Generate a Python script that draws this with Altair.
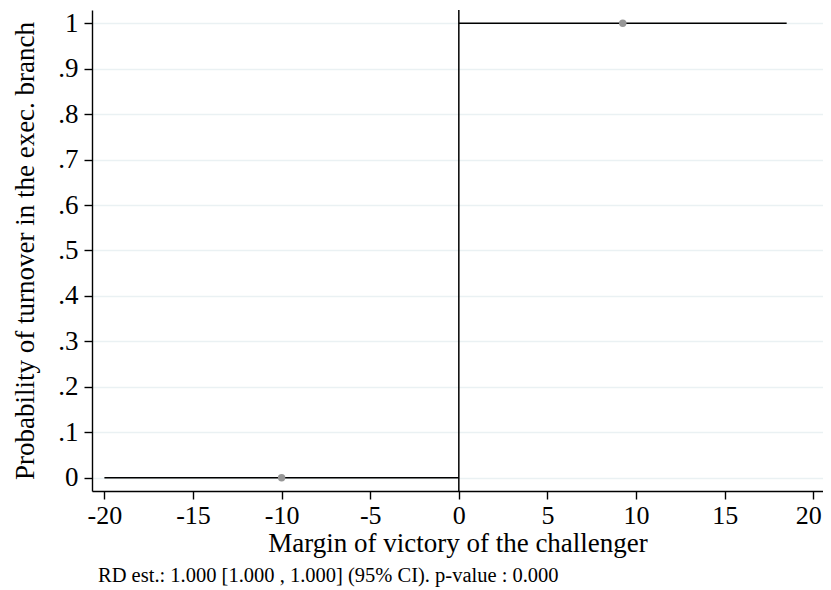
import json
import altair as alt
import pandas as pd

# Fitted segments (left / right of cutoff)
seg_x_start = [-20.0, 0.0]
seg_x_end = [0.0, 18.5]
seg_y = [0.0, 1.0]

# Binned means (scatter points)
pt_x = [-10.0, 9.25]
pt_y = [0.0, 1.0]

cutoff = [0.0]

x_ticks = [-20, -15, -10, -5, 0, 5, 10, 15, 20]
y_ticks = [0, 0.1, 0.2, 0.3, 0.4, 0.5, 0.6, 0.7, 0.8, 0.9, 1.0]
y_tick_labels = ["0", ".1", ".2", ".3", ".4", ".5", ".6", ".7", ".8", ".9", "1"]

x_title = "Margin of victory of the challenger"
y_title = "Probability of turnover in the exec. branch"
note = "RD est.: 1.000 [1.000 , 1.000] (95% CI). p-value : 0.000"

FONT = "Liberation Serif"

seg_df = pd.DataFrame({"x": seg_x_start, "x2": seg_x_end, "y": seg_y})
pt_df = pd.DataFrame({"x": pt_x, "y": pt_y})
cut_df = pd.DataFrame({"x": cutoff})

xscale = alt.Scale(domain=[-20.7, 20.55], nice=False, zero=False)
yscale = alt.Scale(domain=[-0.029, 1.029], nice=False, zero=False)

xaxis = alt.Axis(
    values=x_ticks, grid=False, title=x_title,
    labelExpr="'' + datum.value",
    labelOffset={"condition": {"test": "datum.value == 20", "value": -5}, "value": 0},
    tickSize=8, labelPadding=3, titlePadding=2,
    labelFontSize=26, titleFontSize=27,
)
yaxis = alt.Axis(
    values=y_ticks, grid=True, title=y_title,
    labelExpr=json.dumps(y_tick_labels) + "[round(datum.value*10)]",
    tickSize=8, labelPadding=6, titlePadding=18,
    labelFontSize=27, titleFontSize=27,
)

base_x = alt.X("x:Q", scale=xscale, axis=xaxis)
base_y = alt.Y("y:Q", scale=yscale, axis=yaxis)

grid_layer = alt.Chart(pt_df).mark_point(opacity=0).encode(x=base_x, y=base_y)

segs = alt.Chart(seg_df).mark_rule(color="black", strokeWidth=1.5).encode(
    x=alt.X("x:Q", scale=xscale), x2="x2:Q", y=alt.Y("y:Q", scale=yscale)
)

cut = alt.Chart(cut_df).mark_rule(color="black", strokeWidth=1.5).encode(
    x=alt.X("x:Q", scale=xscale)
)

pts = alt.Chart(pt_df).mark_circle(color="#979797", opacity=1, size=55).encode(
    x=alt.X("x:Q", scale=xscale), y=alt.Y("y:Q", scale=yscale)
)

chart = alt.layer(grid_layer, segs, cut, pts).properties(
    width=731, height=481,
    autosize=alt.AutoSizeParams(type="none"),
    padding={"left": 84, "top": 2, "right": 0, "bottom": 98},
    title=alt.TitleParams(
        text=note, orient="bottom", anchor="start", frame="group", dx=6, offset=10,
        fontSize=20.5, fontWeight="normal", font=FONT, color="black",
    ),
).configure_axis(
    labelFont=FONT, titleFont=FONT, labelColor="black", titleColor="black",
    titleFontWeight="normal", domainColor="black", domainWidth=1.4,
    tickColor="black", tickWidth=1.4, gridColor="#eaf1f3", gridWidth=1.5,
).configure_view(stroke=None)

chart.save("out.html", embed_options={"renderer": "svg", "actions": False})
